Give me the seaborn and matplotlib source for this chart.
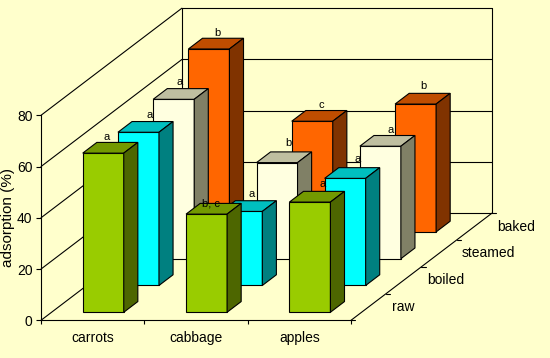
# -*- coding: utf-8 -*-
import numpy as np
import pandas as pd
import seaborn as sns
import matplotlib
matplotlib.use("Agg")
import matplotlib.pyplot as plt
from matplotlib.patches import Polygon

# Valores
categories = ["carrots", "cabbage", "apples"]
series_names = ["raw", "boiled", "steamed", "baked"]
raw = [62.1, 38.3, 43.0]
boiled = [59.8, 28.9, 41.8]
steamed = [62.2, 37.5, 43.9]
baked = [71.4, 43.2, 49.9]
raw_letters = ["a", "b, c", "a"]
boiled_letters = ["a", "a", "a"]
steamed_letters = ["a", "b", "a"]
baked_letters = ["b", "c", "b"]

# Colores: frente, arriba, lado
front_colors = ["#99CC00", "#00FFFF", "#FFFFE0", "#FF6600"]
top_colors = ["#739900", "#00BFBF", "#BFBFA0", "#BF4D00"]
side_colors = ["#4D6600", "#008080", "#808066", "#803300"]
label_nudges = [[(3, 5), (4, 0), (13, 7)],
                [(11, 7), (10, 7), (12, 9)],
                [(6, 7), (11, 9), (10, 6)],
                [(8, 5), (9, 6), (8, 7)]]
bg = "#FFFFCC"

DX = 0.3409   # profundidad por serie, en unidades de categoria
DY = 10.45    # profundidad por serie, en unidades del eje y
BAR_WIDTH = 0.397
NEAR = 0.3
FAR = 0.7
LW = 0.8

sns.set_theme(style="white", rc={"figure.facecolor": bg, "axes.facecolor": "none",
                                 "axes.edgecolor": "black", "axes.linewidth": LW,
                                 "text.color": "black", "xtick.color": "black",
                                 "ytick.color": "black", "axes.labelcolor": "black"})
plt.rcParams["font.family"] = ["Liberation Sans", "DejaVu Sans"]

fig = plt.figure(figsize=(5.5, 3.58), dpi=100)
ax = fig.add_axes([41 / 550, 1 - 320.3 / 358, 310 / 550, 205 / 358])

# Paredes del grafico
wall = dict(color="black", lw=LW, zorder=0.5, clip_on=False)
back_x = 4 * DX
back_y = 4 * DY
for v in [0, 20, 40, 60, 80]:
    ax.plot([0, back_x], [v, v + back_y], **wall)
    ax.plot([back_x, 3 + back_x], [v + back_y, v + back_y], **wall)
ax.plot([back_x, back_x], [back_y, 80 + back_y], **wall)
ax.plot([3 + back_x, 3 + back_x], [back_y, 80 + back_y], **wall)
ax.plot([3, 3 + back_x], [0, back_y], **wall)

# Marcas del eje de profundidad
for k in range(5):
    ax.plot([3 + k * DX, 3 + k * DX + 0.04], [k * DY, k * DY], **wall)

all_values = [raw, boiled, steamed, baked]
all_letters = [raw_letters, boiled_letters, steamed_letters, baked_letters]

# De atras hacia adelante
for k in [3, 2, 1, 0]:
    values = all_values[k]
    x0 = (k + NEAR) * DX
    y0 = (k + NEAR) * DY
    x1 = (k + FAR) * DX
    y1 = (k + FAR) * DY
    df = pd.DataFrame({"pos": np.arange(3) + 0.5 + x0, "value": values})
    sns.barplot(data=df, x="pos", y="value", native_scale=True, width=BAR_WIDTH,
                color=front_colors[k], saturation=1, errorbar=None, bottom=y0,
                edgecolor="black", linewidth=LW, ax=ax)
    for i, val in enumerate(values):
        left = i + 0.5 + x0 - BAR_WIDTH / 2
        right = left + BAR_WIDTH
        top = y0 + val
        ddx = x1 - x0
        ddy = y1 - y0
        ax.add_patch(Polygon([(left, top), (right, top), (right + ddx, top + ddy), (left + ddx, top + ddy)],
                             closed=True, facecolor=top_colors[k], edgecolor="black", lw=LW))
        ax.add_patch(Polygon([(right, y0), (right + ddx, y0 + ddy), (right + ddx, top + ddy), (right, top)],
                             closed=True, facecolor=side_colors[k], edgecolor="black", lw=LW))
        ax.annotate(all_letters[k][i], xy=((left + right) / 2, top + ddy),
                    xytext=label_nudges[k][i], textcoords="offset pixels",
                    ha="center", va="center", fontsize=8, annotation_clip=False, zorder=4)
    ax.annotate(series_names[k], xy=(3 + (k + 0.5) * DX, (k + 0.5) * DY), xytext=(23, 0),
                textcoords="offset pixels", ha="left", va="center", fontsize=10,
                annotation_clip=False)

for p in ax.patches:
    p.set_clip_on(False)

ax.set_xlim(0, 3)
ax.set_ylim(0, 80)
sns.despine(ax=ax)
ax.set_xticks([0, 1, 2, 3])
ax.set_xticklabels([])
ax.set_xticks([0.5, 1.5, 2.5], labels=categories, minor=True)
ax.set_yticks([0, 20, 40, 60, 80])
ax.tick_params(axis="x", which="major", length=3, width=LW, bottom=True)
ax.tick_params(axis="x", which="minor", length=0, pad=8, labelsize=10, bottom=True)
ax.tick_params(axis="y", which="major", length=3.6, width=LW, pad=2.5, labelsize=10, left=True)
ax.set_xlabel("")
ax.set_ylabel("adsorption (%)", fontsize=11)
ax.yaxis.set_label_coords(-0.085, 0.5)

fig.savefig("out.png", dpi=100, facecolor=bg)
